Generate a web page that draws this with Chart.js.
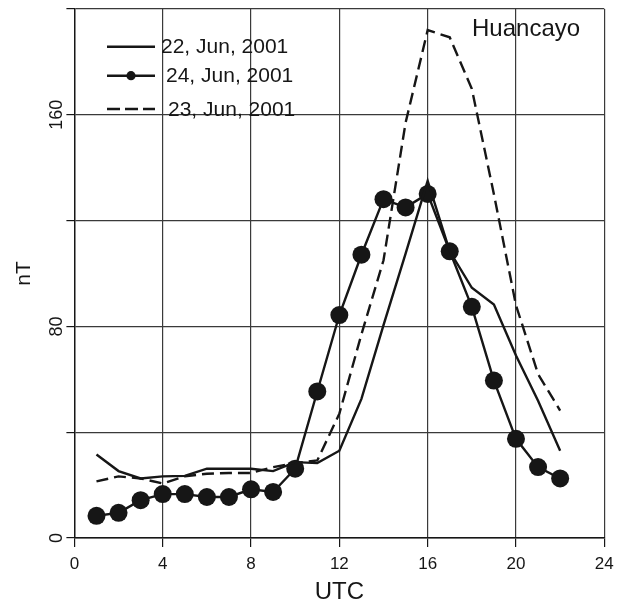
<!DOCTYPE html>
<html>
<head>
<meta charset="utf-8">
<script src="https://cdn.jsdelivr.net/npm/chart.js@4/dist/chart.umd.min.js"></script>
<style>
html,body{margin:0;padding:0;background:#fff}
#wrap{width:619px;height:607px;position:relative}
</style>
</head>
<body>
<div id="wrap"><canvas id="c"></canvas></div>
<script>
// hourly H-component amplitude at Huancayo, three days of June 2001
const HOURS = [1,2,3,4,5,6,7,8,9,10,11,12,13,14,15,16,17,18,19,20,21,22];
const JUN22 = [31.6,25.3,22.5,23.3,23.5,26.2,26.2,26.2,25.3,28.7,28.3,33.0,52.6,80.5,107.5,135.0,108.4,94.6,88.3,69.0,51.9,33.0];
const JUN24 = [8.4,9.5,14.3,16.6,16.6,15.5,15.5,18.4,17.4,26.2,55.4,84.3,107.1,128.1,125.0,130.1,108.4,87.4,59.5,37.5,26.8,22.5];
const JUN23 = [21.4,23.3,22.5,20.6,23.3,24.3,24.6,24.6,26.8,28.3,29.3,47.0,77.0,105.0,157.0,192.0,189.3,169.8,130.0,88.0,62.0,48.2];
const LABELS = ['22, Jun, 2001', '24, Jun, 2001', '23, Jun, 2001'];
const Y_LABELED = [0, 80, 160];
const STATION = 'Huancayo';

const INK = '#161616';
const GRID = '#3a3a3a';
const FONT = "'Liberation Sans', Arial, Helvetica, sans-serif";

function pts(vals){ return HOURS.map((h, i) => ({x: h, y: vals[i]})); }

// legend + station name drawn inside the plot box
const insideText = {
  id: 'insideText',
  afterDraw(chart){
    const ctx = chart.ctx;
    const ds = chart.data.datasets;
    const rows = [46.7, 75.7, 109];
    const textX = [161, 166, 168];
    ctx.save();
    ctx.fillStyle = INK;
    ctx.font = '21px ' + FONT;
    ctx.textBaseline = 'middle';
    ds.forEach((d, i) => {
      const y = rows[i];
      ctx.strokeStyle = INK;
      ctx.lineWidth = 2.6;
      ctx.setLineDash(d.borderDash ? [13, 5] : []);
      ctx.beginPath();
      ctx.moveTo(107, y);
      ctx.lineTo(155, y);
      ctx.stroke();
      ctx.setLineDash([]);
      if (d.pointRadius > 0) {
        ctx.beginPath();
        ctx.arc(131, y, 4.6, 0, Math.PI * 2);
        ctx.fill();
      }
      ctx.fillText(LABELS[i], textX[i], y + 1);
    });
    ctx.font = '24px ' + FONT;
    ctx.fillText(STATION, 472, 29);
    ctx.restore();
  }
};

new Chart(document.getElementById('c'), {
  type: 'line',
  data: {
    datasets: [
      {data: pts(JUN22), borderColor: INK, borderWidth: 2.4, pointRadius: 0, tension: 0},
      {data: pts(JUN24), borderColor: INK, backgroundColor: INK, borderWidth: 2.4,
       pointRadius: 9, pointHoverRadius: 9, pointBorderWidth: 0, tension: 0},
      {data: pts(JUN23), borderColor: INK, borderWidth: 2.4, borderDash: [12, 6], pointRadius: 0, tension: 0}
    ]
  },
  options: {
    responsive: true,
    maintainAspectRatio: false,
    animation: false,
    events: [],
    layout: {padding: {left: 0, right: 14.7, top: 6.4, bottom: 0}},
    plugins: {legend: {display: false}, tooltip: {enabled: false}},
    scales: {
      x: {
        type: 'linear', min: 0, max: 24,
        afterFit: s => { s.height = 69; },
        ticks: {stepSize: 4, color: INK, padding: 5, font: {family: FONT, size: 17, lineHeight: 1.4}, maxRotation: 0},
        grid: {color: GRID, lineWidth: 1.2, tickLength: 9, tickColor: INK},
        border: {color: INK, width: 1.4},
        title: {display: true, text: 'UTC', color: INK, font: {family: FONT, size: 24, lineHeight: 1}, padding: {top: 0, bottom: 3}}
      },
      y: {
        type: 'linear', min: 0, max: 200,
        afterFit: s => { s.width = 74.4; },
        ticks: {
          stepSize: 40, color: INK, padding: -6, crossAlign: 'center',
          minRotation: 90, maxRotation: 90,
          font: {family: FONT, size: 18},
          callback: v => Y_LABELED.includes(v) ? String(v) : ''
        },
        grid: {color: GRID, lineWidth: 1.2, tickLength: 8, tickColor: INK},
        border: {color: INK, width: 1.4},
        title: {display: true, text: 'nT', color: INK, font: {family: FONT, size: 21, lineHeight: 1}, padding: {top: 14, bottom: 0}}
      }
    }
  },
  plugins: [insideText]
});
</script>
</body>
</html>
